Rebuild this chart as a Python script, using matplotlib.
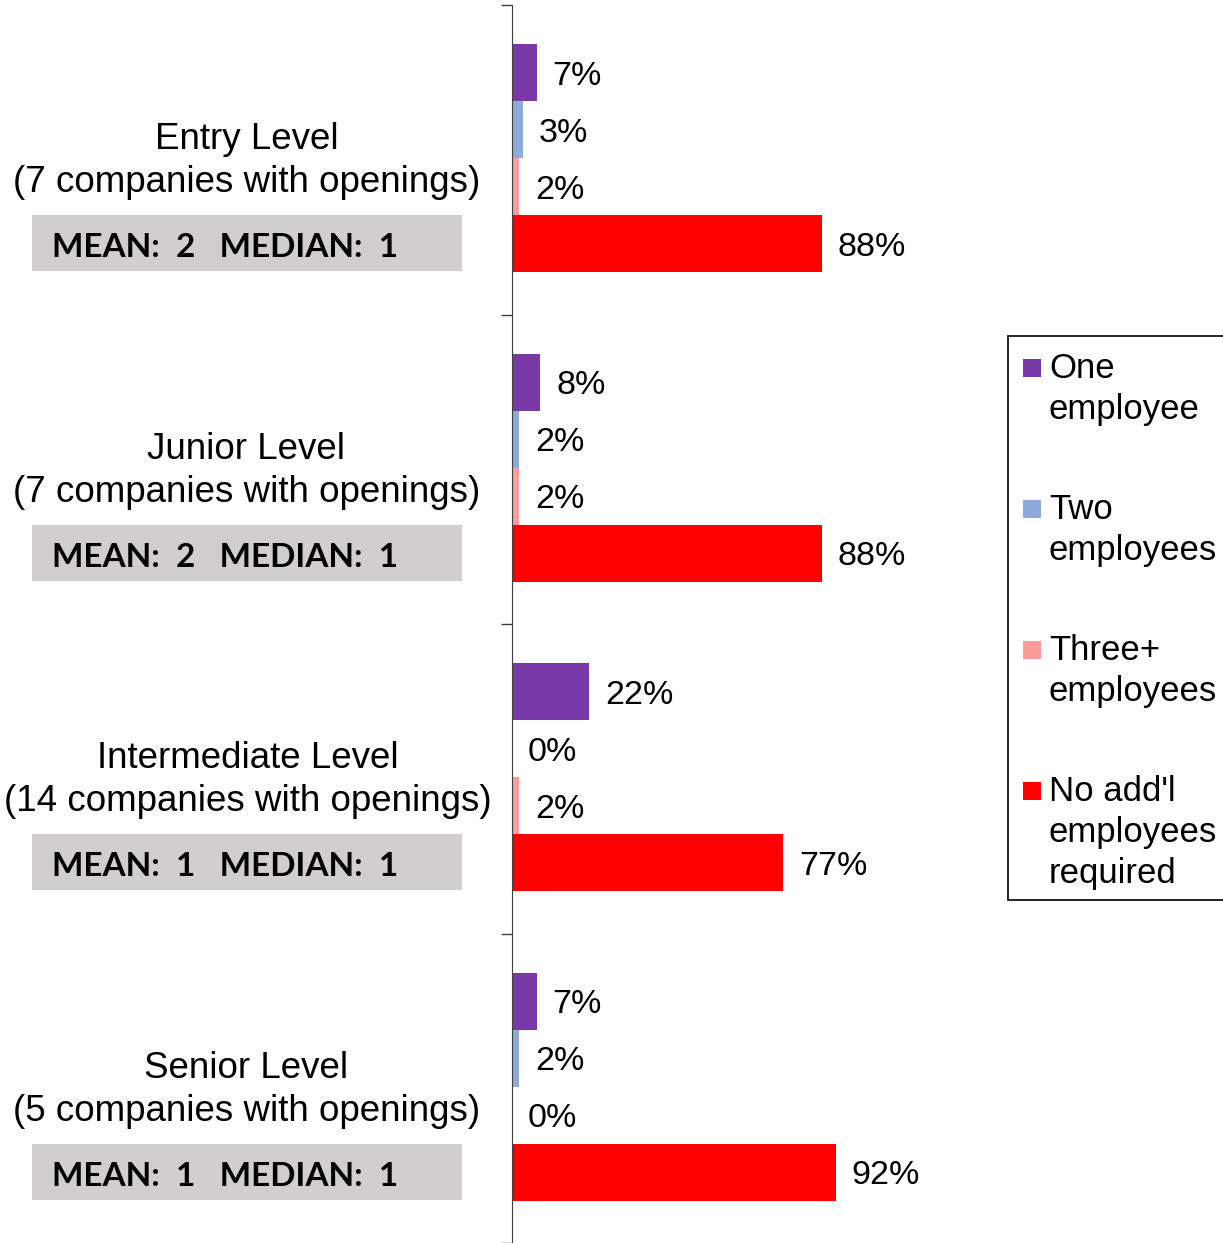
import matplotlib
matplotlib.use('Agg')
import matplotlib.pyplot as plt
from matplotlib.patches import Rectangle
from matplotlib.transforms import blended_transform_factory
import numpy as np

plt.rcParams['font.family'] = ['Liberation Sans', 'DejaVu Sans']

levels = ['Entry Level', 'Junior Level', 'Intermediate Level', 'Senior Level']
companies = [7, 7, 14, 5]
means = [2, 2, 1, 1]
medians = [1, 1, 1, 1]

series = ['One\nemployee', 'Two\nemployees', 'Three+\nemployees',
          "No add'l\nemployees\nrequired"]
one_emp = [7, 8, 22, 7]
two_emp = [3, 2, 0, 2]
three_emp = [2, 2, 2, 0]
no_add = [88, 88, 77, 92]
colors = ['#7838a8', '#8eaadb', '#ff9b9b', '#ff0000']

W, H = 1223, 1243
fig = plt.figure(figsize=(W / 100, H / 100), dpi=100)
ax = fig.add_axes([512 / W, 0, 352 / W, 1238 / H])

y = np.arange(len(levels))
h = 0.184
for k, vals in enumerate([one_emp, two_emp, three_emp, no_add]):
    bars = ax.barh(y + (k - 1.5) * h - 0.005, vals, height=h, color=colors[k])
    texts = ax.bar_label(bars, labels=[f'{v}%' for v in vals], padding=11.5,
                         fontsize=24.5)
    for t in texts:
        t.xyann = (11.5, -2.5)

ax.set_xlim(0, 100)
ax.set_ylim(3.5, -0.5)
ax.set_xticks([])
ax.set_yticks(np.arange(-0.5, 4, 1))
ax.set_yticklabels([])
ax.tick_params(axis='y', length=8, width=1, color='#404040')
for s in ['top', 'right', 'bottom']:
    ax.spines[s].set_visible(False)
ax.spines['left'].set_color('#404040')
ax.set_facecolor('none')

# category labels and the mean/median boxes
tr = blended_transform_factory(fig.transFigure, ax.transData)
for i, lv in enumerate(levels):
    xr = 492 if companies[i] >= 10 else 480
    ax.text(xr / W, i + 0.005, f'{lv}\n({companies[i]} companies with openings)',
            transform=tr, ha='right', va='center', multialignment='center',
            fontsize=26.5, linespacing=1.3, clip_on=False)
    ax.add_patch(Rectangle((32 / W, i + 0.18), 430 / W, 0.18, transform=tr,
                           facecolor='#d0cece', edgecolor='none',
                           clip_on=False))
    ax.text(52 / W, i + 0.285, f'MEAN:  {means[i]}   MEDIAN:  {medians[i]}',
            transform=tr, ha='left', va='center', fontsize=24,
            fontweight='bold', family=['Lato', 'DejaVu Sans'], clip_on=False)

# legend
fig.patches.append(Rectangle((1008 / W, 1 - 900 / H), 230 / W, 564 / H,
                             transform=fig.transFigure, facecolor='white',
                             edgecolor='black', lw=1.2))
for k, lab in enumerate(series):
    base = 379 + 141 * k
    fig.patches.append(Rectangle((1023 / W, 1 - (base - 2) / H), 18 / W,
                                 18 / H, transform=fig.transFigure,
                                 facecolor=colors[k], edgecolor='none'))
    fig.text(1049 / W, 1 - (base - 27) / H, lab, ha='left', va='top',
             fontsize=25, linespacing=1.3)

fig.savefig('out.png', dpi=100)
